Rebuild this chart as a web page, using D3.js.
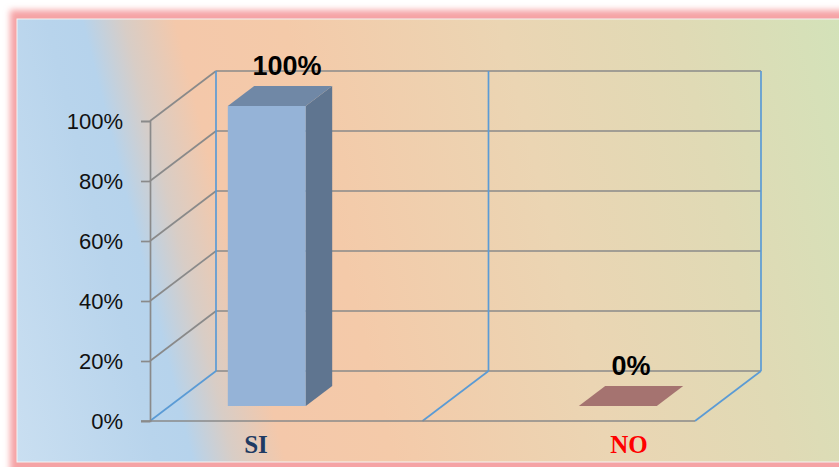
<!DOCTYPE html>
<html>
<head>
<meta charset="utf-8">
<script src="https://cdn.jsdelivr.net/npm/d3@7/dist/d3.min.js"></script>
<style>
  html, body { margin: 0; padding: 0; background: #ffffff; }
  svg { display: block; }
</style>
</head>
<body>
<svg id="chart" width="839" height="467"></svg>
<script>
// Survey answers and their shares
const categories = ["SI", "NO"];
const values = [1.0, 0.0];
const yTicks = [0, 0.2, 0.4, 0.6, 0.8, 1.0];
const labelColors = ["#1f3b63", "#ff0000"];
const barFront = ["#95b3d7", "#c99a98"];
const barSide = ["#5f7590", "#8a5c5a"];
const barTop = ["#7088a6", "#a57370"];

const W = 839, H = 467;
const svg = d3.select("#chart");
const defs = svg.append("defs");

// ---- frame and background ----
const glow = defs.append("filter").attr("id", "glow")
  .attr("x", "-5%").attr("y", "-5%").attr("width", "110%").attr("height", "110%");
glow.append("feGaussianBlur").attr("stdDeviation", 3);

// Diagonal wash: blue on the lower left, peach in the middle, green towards the top right
const ux = 0.97, uy = -0.243;
const s0 = -100, s1 = 810;
const grad = defs.append("linearGradient").attr("id", "bg")
  .attr("gradientUnits", "userSpaceOnUse")
  .attr("x1", s0 * ux).attr("y1", s0 * uy)
  .attr("x2", s1 * ux).attr("y2", s1 * uy);
[
  [-100, "#cadff1"], [40, "#b8d4ec"], [75, "#b6d3ec"], [115, "#d8cdc6"],
  [165, "#f4c8aa"], [270, "#f4caa9"], [480, "#ebd5b3"], [650, "#e0dab5"], [810, "#d3e2b9"]
].forEach(([s, c]) => grad.append("stop").attr("offset", (s - s0) / (s1 - s0)).attr("stop-color", c));

svg.append("rect").attr("x", 10).attr("y", 10).attr("width", W + 20).attr("height", H)
  .attr("fill", "#f5a3a5").attr("filter", "url(#glow)");
svg.append("rect").attr("x", 17).attr("y", 19).attr("width", W).attr("height", 443)
  .attr("fill", "url(#bg)").attr("stroke", "#f4f4f4").attr("stroke-width", 1);

// ---- 3D plot geometry ----
const plotLeft = 150, plotRight = 695;
const y = d3.scaleLinear().domain([0, 1]).range([421, 121]);
const depthX = 66, depthY = -50;          // offset of the back wall
const cat = d3.scaleBand().domain(categories).range([plotLeft, plotRight]).padding(0);
const barX = d3.scalePoint().domain(categories).range([247, 598]);
const labelX = d3.scalePoint().domain(categories).range([256, 629]);
const valueX = d3.scalePoint().domain(categories).range([287, 631]);
const barW = 78, barD0 = 0.3, barD1 = 0.7;

const gridColor = "#8a8a8a", wallColor = "#5b9bd5", lw = 1.7;
const g = svg.append("g");

// back wall and side wall gridlines
yTicks.forEach(t => {
  g.append("line")
    .attr("x1", plotLeft + depthX).attr("x2", plotRight + depthX)
    .attr("y1", y(t) + depthY).attr("y2", y(t) + depthY)
    .attr("stroke", gridColor).attr("stroke-width", lw);
  if (t > 0) {
    g.append("line")
      .attr("x1", plotLeft).attr("y1", y(t))
      .attr("x2", plotLeft + depthX).attr("y2", y(t) + depthY)
      .attr("stroke", gridColor).attr("stroke-width", lw);
  }
});

// category dividers on the back wall and the floor
const bounds = categories.map(c => cat(c)).concat([plotRight]);
bounds.forEach(bx => {
  g.append("line")
    .attr("x1", bx + depthX).attr("x2", bx + depthX)
    .attr("y1", y(1) + depthY).attr("y2", y(0) + depthY)
    .attr("stroke", wallColor).attr("stroke-width", lw);
  g.append("line")
    .attr("x1", bx).attr("y1", y(0))
    .attr("x2", bx + depthX).attr("y2", y(0) + depthY)
    .attr("stroke", wallColor).attr("stroke-width", lw);
});

// floor front edge and vertical axis
g.append("line").attr("x1", plotLeft - 9).attr("x2", plotRight)
  .attr("y1", y(0)).attr("y2", y(0)).attr("stroke", gridColor).attr("stroke-width", lw);
const yAxis = d3.axisLeft(y).tickValues(yTicks).tickFormat(d3.format(".0%"))
  .tickSize(9).tickPadding(18);
const ax = g.append("g").attr("transform", `translate(${plotLeft},0)`).call(yAxis);
ax.select(".domain").attr("stroke", gridColor).attr("stroke-width", lw);
ax.selectAll(".tick line").attr("stroke", gridColor).attr("stroke-width", lw);
ax.selectAll(".tick text")
  .attr("font-family", "'Liberation Sans', Arial, sans-serif")
  .attr("font-size", 22).attr("fill", "#111");

// ---- bars ----
categories.forEach((c, i) => {
  const v = values[i];
  const fx = barX(c) - barW / 2 + barD0 * depthX;
  const fyb = y(0) + barD0 * depthY;
  const fyt = y(v) + barD0 * depthY;
  const ddx = (barD1 - barD0) * depthX, ddy = (barD1 - barD0) * depthY;
  const bg = g.append("g");
  if (v > 0) {
    bg.append("rect").attr("x", fx).attr("y", fyt).attr("width", barW).attr("height", fyb - fyt)
      .attr("fill", barFront[i]);
    bg.append("path")
      .attr("d", `M${fx + barW},${fyt} L${fx + barW + ddx},${fyt + ddy} L${fx + barW + ddx},${fyb + ddy} L${fx + barW},${fyb} Z`)
      .attr("fill", barSide[i]);
  }
  bg.append("path")
    .attr("d", `M${fx},${fyt} L${fx + ddx},${fyt + ddy} L${fx + barW + ddx},${fyt + ddy} L${fx + barW},${fyt} Z`)
    .attr("fill", barTop[i]);

  // value label above the bar
  g.append("text")
    .attr("x", valueX(c))
    .attr("y", y(v) + barD1 * depthY - 11)
    .attr("text-anchor", "middle")
    .attr("font-family", "'Liberation Sans', Arial, sans-serif")
    .attr("font-weight", "bold").attr("font-size", 27).attr("fill", "#000")
    .text(d3.format(".0%")(v));

  // category label
  g.append("text")
    .attr("x", labelX(c)).attr("y", 453)
    .attr("text-anchor", "middle")
    .attr("font-family", "'Liberation Serif', 'Times New Roman', serif")
    .attr("font-weight", "bold").attr("font-size", 25).attr("fill", labelColors[i])
    .text(c);
});
</script>
</body>
</html>
